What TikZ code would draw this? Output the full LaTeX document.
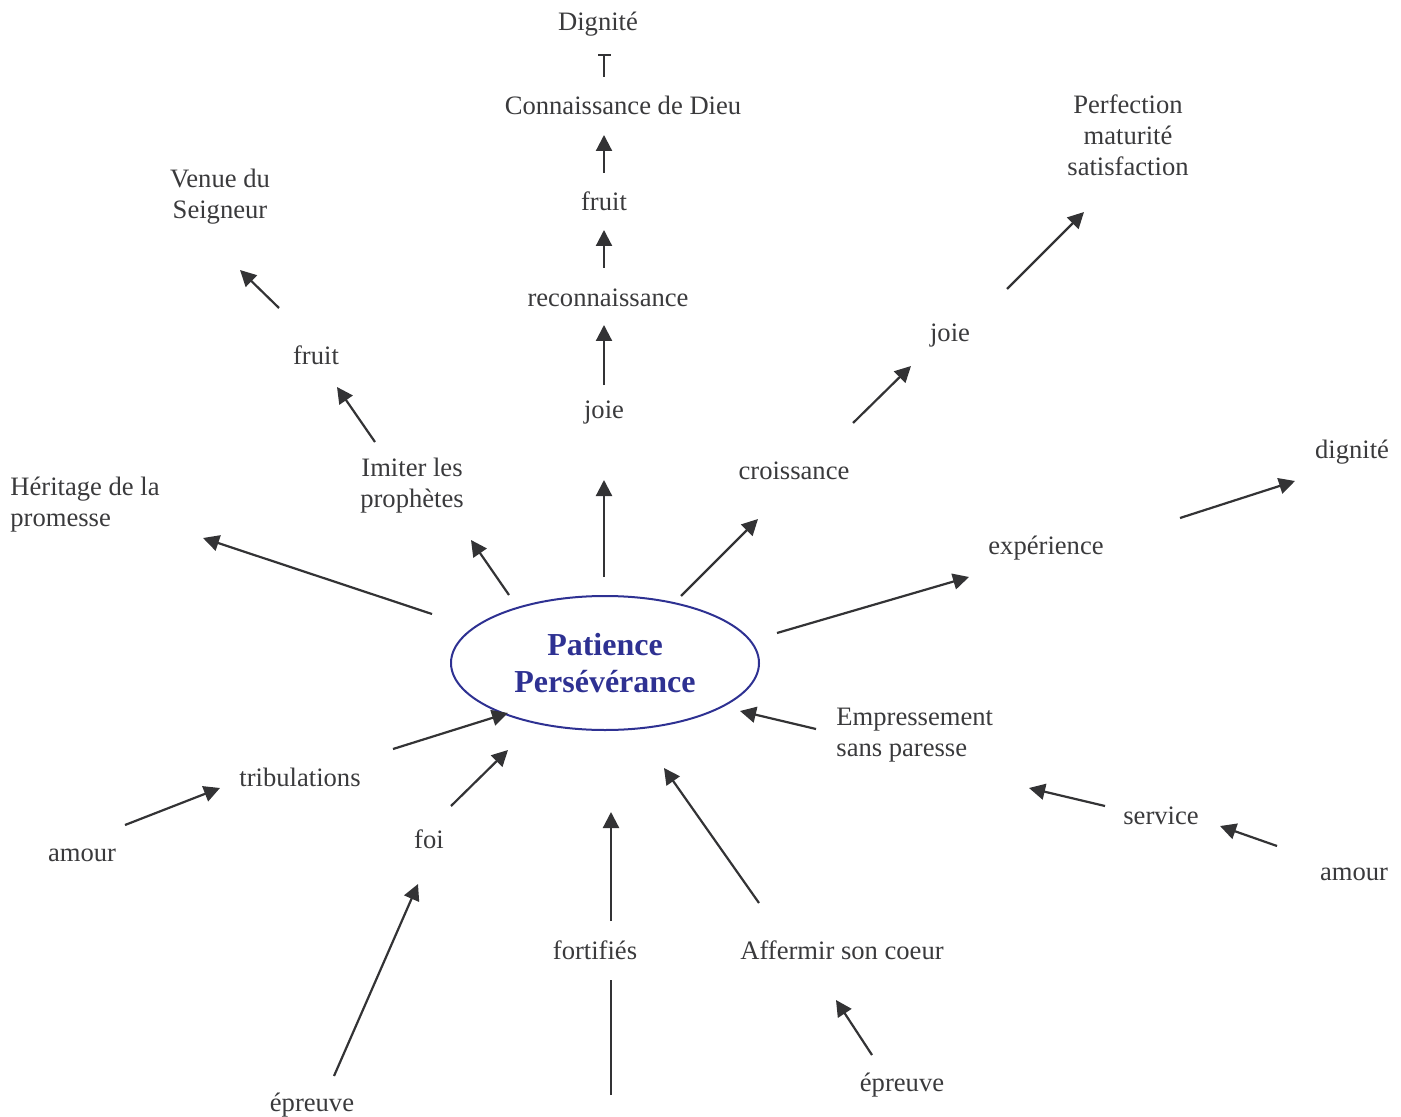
\documentclass[tikz,border=0pt]{standalone}
\usepackage{fontspec}
\setmainfont{Liberation Serif}
\usetikzlibrary{arrows.meta,shapes.geometric}
\definecolor{txt}{HTML}{3A3A3C}
\definecolor{arr}{HTML}{333335}
\definecolor{navy}{HTML}{2E3192}
\tikzset{
  lbl/.style={inner sep=0pt, text=txt, font=\fontsize{13.3}{15.5}\selectfont, align=center, yshift=-1pt},
  lbll/.style={lbl, align=left, anchor=west},
  arrow/.style={draw=arr, line width=1.1pt, -{Triangle[length=8pt,width=8pt]}},
  plain/.style={draw=arr, line width=1.1pt},
}
\begin{document}
\begin{tikzpicture}[x=0.5pt,y=-0.5pt]
\path[use as bounding box] (0,0) rectangle (1401,1117);
% central ellipse
\node[ellipse, draw=navy, line width=1pt, minimum width=154pt, minimum height=67pt, inner sep=0pt,
  text=navy, font=\fontsize{16}{18.5}\selectfont\bfseries, align=center] (pp) at (605,663) {Patience\\Persévérance};
% labels
\node[lbl] (dig) at (598,22) {Dignité};
\node[lbl] (cdd) at (623,103) {Connaissance de Dieu};
\node[lbl] (fr1) at (604,199) {fruit};
\node[lbl] (rec) at (608,296) {reconnaissance};
\node[lbl] (joi1) at (604,411) {joie};
\node[lbl] (ven) at (220,195) {Venue du\\Seigneur};
\node[lbl] (fr2) at (316,353) {fruit};
\node[lbl] (imi) at (412,484) {Imiter les\\prophètes};
\node[lbll] (her) at (10,503) {Héritage de la\\promesse};
\node[lbl] (cro) at (794,469) {croissance};
\node[lbl] (joi2) at (950,334) {joie};
\node[lbl] (per) at (1128,133) {Perfection\\maturité\\satisfaction};
\node[lbl] (dgn) at (1352,450) {dignité};
\node[lbl] (exp) at (1046,546) {expérience};
\node[lbll] (emp) at (836,733) {Empressement\\sans paresse};
\node[lbl] (ser) at (1161,814) {service};
\node[lbl] (am1) at (1354,872) {amour};
\node[lbl] (tri) at (300,775) {tribulations};
\node[lbl] (am2) at (82,853) {amour};
\node[lbl] (foi) at (429,837) {foi};
\node[lbl] (ep1) at (312,1103) {épreuve};
\node[lbl] (fort) at (595,948) {fortifiés};
\node[lbl] (aff) at (842,948) {Affermir son coeur};
\node[lbl] (ep2) at (902,1083) {épreuve};
% arrow end points
\coordinate (a1s) at (604,173); \coordinate (a1e) at (604,135);
\coordinate (a2s) at (604,268); \coordinate (a2e) at (604,230);
\coordinate (a3s) at (604,385); \coordinate (a3e) at (604,325);
\coordinate (a4s) at (604,577); \coordinate (a4e) at (604,480);
\coordinate (b1s) at (279,308); \coordinate (b1e) at (240,270);
\coordinate (b2s) at (375,442); \coordinate (b2e) at (337,387);
\coordinate (b3s) at (509,595); \coordinate (b3e) at (471,540);
\coordinate (b4s) at (432,614); \coordinate (b4e) at (203,538);
\coordinate (c1s) at (681,596); \coordinate (c1e) at (758,519);
\coordinate (c2s) at (853,423); \coordinate (c2e) at (911,366);
\coordinate (c3s) at (1007,289); \coordinate (c3e) at (1084,212);
\coordinate (d1s) at (777,633); \coordinate (d1e) at (969,577);
\coordinate (d2s) at (1180,518); \coordinate (d2e) at (1295,481);
\coordinate (e1s) at (816,729); \coordinate (e1e) at (740,711);
\coordinate (e2s) at (1105,806); \coordinate (e2e) at (1029,788);
\coordinate (e3s) at (1277,846); \coordinate (e3e) at (1220,826);
\coordinate (f1s) at (393,749); \coordinate (f1e) at (508,713);
\coordinate (f2s) at (125,825); \coordinate (f2e) at (220,788);
\coordinate (g1s) at (451,806); \coordinate (g1e) at (508,750);
\coordinate (g2s) at (334,1076); \coordinate (g2e) at (418,884);
\coordinate (h1s) at (611,921); \coordinate (h1e) at (611,812);
\coordinate (h2s) at (611,1095); \coordinate (h2e) at (611,980);
\coordinate (k1s) at (759,903); \coordinate (k1e) at (664,768);
\coordinate (k2s) at (872,1055); \coordinate (k2e) at (836,1000);
\coordinate (tb1) at (598,55); \coordinate (tb2) at (611,55);
\coordinate (tt) at (604,55); \coordinate (tbot) at (604,77);
% arrows
\foreach \n in {a1,a2,a3,a4,b1,b2,b3,b4,c1,c2,c3,d1,d2,e1,e2,e3,f1,f2,g1,g2,h1,k1,k2}
  \draw[arrow] (\n s) -- (\n e);
\draw[plain] (h2s) -- (h2e);
\draw[draw=arr, line width=0.7pt] (tb1) -- (tb2) (tt) -- (tbot);
\end{tikzpicture}
\end{document}
